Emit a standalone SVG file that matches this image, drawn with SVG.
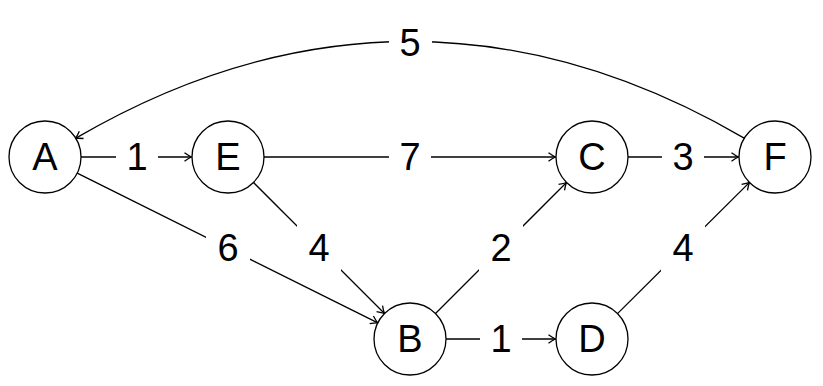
<svg xmlns="http://www.w3.org/2000/svg" width="823" height="386" viewBox="0 0 823 386">
<style>
.n circle{fill:#fff;stroke:#000;stroke-width:1.3}
text{font-family:"Liberation Sans","DejaVu Sans",sans-serif;font-size:38px;text-anchor:middle;fill:#000}
.e path,.e line{fill:none;stroke:#000;stroke-width:1.3}
.lb{fill:#fff;stroke:none}
</style>
<defs>
<marker id="ar" markerUnits="userSpaceOnUse" markerWidth="14" markerHeight="14" viewBox="-10 -7 14 14" refX="0" refY="0" orient="auto">
<path d="M-7,-4.2 Q-2.5,-1 0,0 Q-2.5,1 -7,4.2" fill="none" stroke="#000" stroke-width="1.3"/>
</marker>
</defs>
<g class="e" id="edges">
<line x1="81" y1="157" x2="191.5" y2="157" marker-end="url(#ar)"/>
<line x1="264" y1="157" x2="555.5" y2="157" marker-end="url(#ar)"/>
<line x1="628" y1="157" x2="738.5" y2="157" marker-end="url(#ar)"/>
<line x1="446" y1="339" x2="555.5" y2="339" marker-end="url(#ar)"/>
<line x1="77.2" y1="173.1" x2="377.8" y2="322.9" marker-end="url(#ar)"/>
<line x1="253.5" y1="182.5" x2="384.5" y2="313.5" marker-end="url(#ar)"/>
<line x1="435.5" y1="313.5" x2="566.5" y2="182.5" marker-end="url(#ar)"/>
<line x1="617.5" y1="313.6" x2="749.5" y2="182.4" marker-end="url(#ar)"/>
<path d="M744.6,138.41 C523.33,9.19 296.67,9.19 75.4,138.41" marker-end="url(#ar)"/>
<g id="labels">
<rect class="lb" x="116" y="132" width="42" height="50"/><text x="137" y="170">1</text>
<rect class="lb" x="389" y="132" width="42" height="50"/><text x="410" y="170">7</text>
<rect class="lb" x="662" y="132" width="42" height="50"/><text x="683" y="170">3</text>
<rect class="lb" x="480" y="314" width="42" height="50"/><text x="501" y="352">1</text>
<rect class="lb" x="206" y="223" width="44" height="50"/><text x="228" y="261">6</text>
<rect class="lb" x="297" y="223" width="44" height="50"/><text x="319" y="261">4</text>
<rect class="lb" x="479" y="223" width="44" height="50"/><text x="501" y="261">2</text>
<rect class="lb" x="661" y="223" width="44" height="50"/><text x="683" y="261">4</text>
<rect class="lb" x="389" y="18" width="43" height="50"/><text x="410" y="56">5</text>
</g>
</g>
<g class="n" id="A"><circle cx="45" cy="157" r="36"/><text x="45" y="170">A</text></g>
<g class="n" id="E"><circle cx="228" cy="157" r="36"/><text x="228" y="170">E</text></g>
<g class="n" id="C"><circle cx="592" cy="157" r="36"/><text x="592" y="170">C</text></g>
<g class="n" id="F"><circle cx="775" cy="157" r="36"/><text x="775" y="170">F</text></g>
<g class="n" id="B"><circle cx="410" cy="339" r="36"/><text x="410" y="352">B</text></g>
<g class="n" id="D"><circle cx="592" cy="339" r="36"/><text x="592" y="352">D</text></g>
</svg>
